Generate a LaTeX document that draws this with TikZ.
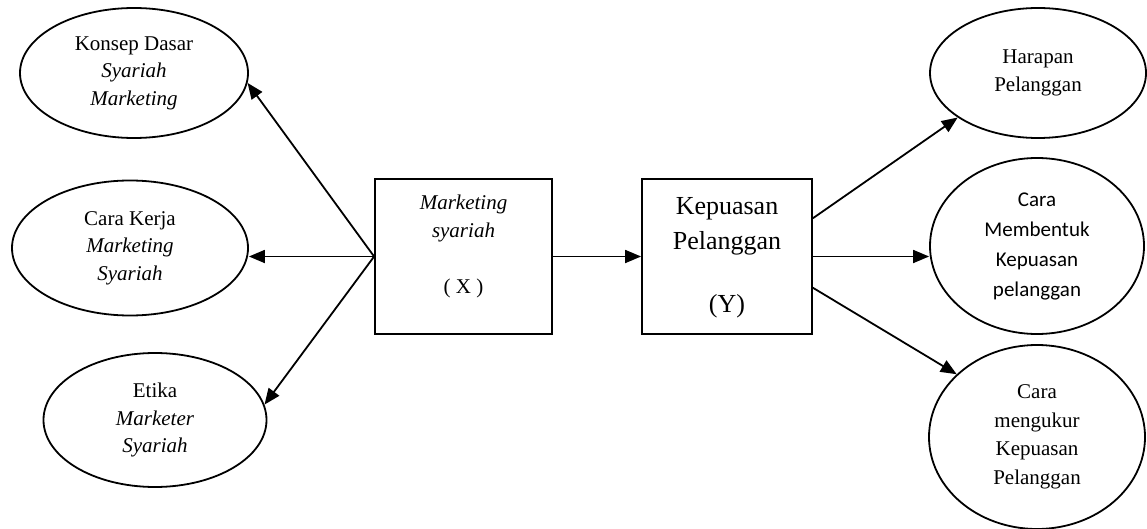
\documentclass[tikz,border=0pt]{standalone}
\usepackage{fontspec}
\setmainfont{Liberation Serif}
\newfontfamily\calfont{Carlito}
\usetikzlibrary{shapes.geometric,arrows.meta}
\tikzset{>={Triangle[length=16pt,width=13pt]}}
\tikzset{oval/.style={draw,ellipse,line width=1.8pt,inner sep=0pt,align=center,font=\fontsize{21}{27.5}\selectfont},
    kotak/.style={draw,rectangle,line width=1.8pt,inner sep=0pt}}

\begin{document}
\begin{tikzpicture}[x=1pt,y=-1pt,line width=1.8pt]
    \useasboundingbox (0,0) rectangle (1147,529);

    \node[oval,minimum width=228,minimum height=130] (konsep) at (134,73) {Konsep Dasar\\\textit{Syariah}\\\textit{Marketing}};
    \node[oval,minimum width=236,minimum height=135] (carakerja) at (130,248) {Cara Kerja\\\textit{Marketing}\\\textit{Syariah}};
    \node[oval,minimum width=223,minimum height=134] (etika) at (155,420) {Etika\\\textit{Marketer}\\\textit{Syariah}};


    \node[kotak,minimum width=177,minimum height=155] (msyariah) at (463.5,256.5) {};
    \node[align=center,font=\fontsize{21}{28}\selectfont] (msyariahtxt) at (463.5,246) {\textit{Marketing}\\\textit{syariah}\\ \\( X )};

    \node[kotak,minimum width=170,minimum height=155] (kepuasan) at (727,256.5) {};
    \node[align=center,font=\fontsize{26}{35}\selectfont] (kepuasantxt) at (727,258) {Kepuasan\\Pelanggan\\[28pt](Y)};


    \node[oval,minimum width=216,minimum height=130] (harapan) at (1038,73) {Harapan\\Pelanggan};
    \node[oval,minimum width=214,minimum height=176,font=\calfont\fontsize{21}{30}\selectfont] (membentuk) at (1037,246) {Cara\\Membentuk\\Kepuasan\\pelanggan};
    \node[oval,minimum width=216,minimum height=184,font=\fontsize{21}{28.5}\selectfont] (mengukur) at (1037,437) {Cara\\mengukur\\Kepuasan\\Pelanggan};


    \draw[->] (msyariah.west) -- (konsep.-5);
    \draw[->] (msyariah.west) -- (msyariah.west -| carakerja.east);
    \draw[->] (msyariah.west) -- (etika.8);
    \draw[->] (msyariah.east) -- (kepuasan.west);

    \draw[->] (kepuasan.24) -- (harapan.209);
    \draw[->] (kepuasan.east) -- (kepuasan.east -| membentuk.west);
    \draw[->] (kepuasan.-20) -- (mengukur.142);
\end{tikzpicture}
\end{document}
